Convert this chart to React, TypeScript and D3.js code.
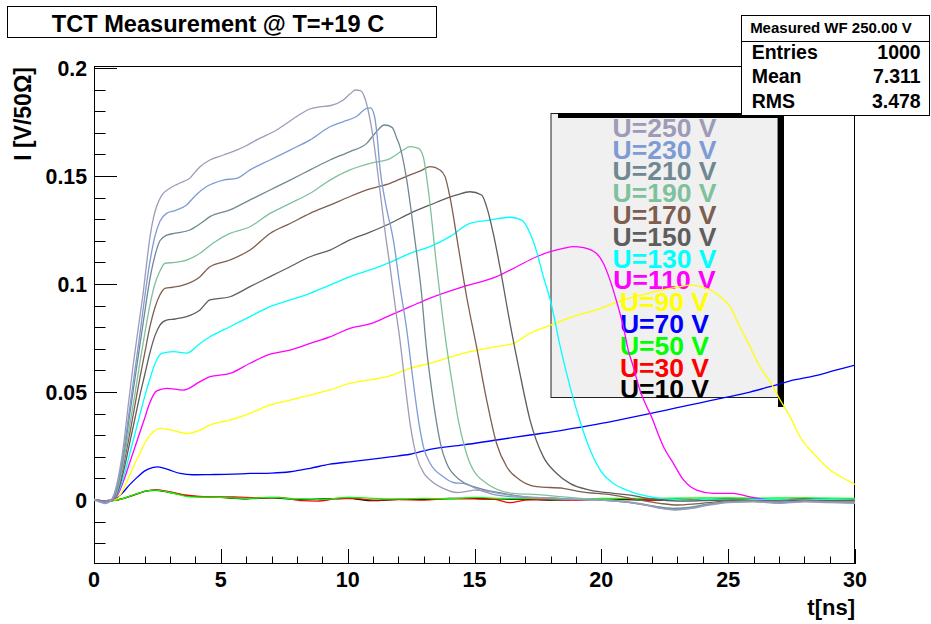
import React from "react";
import * as d3 from "d3";

type Pt = [number, number];

// Induced current I [V/50Ω] versus time t [ns], one waveform per bias voltage
const u250: Pt[] = [
  [0, 0.0003], [0.2, -0.0008], [0.42, -0.0016], [0.62, -0.0008], [0.8, 0.003], [1.0, 0.013],
  [1.16, 0.025], [1.35, 0.044], [1.55, 0.063], [1.75, 0.08], [1.94, 0.096], [2.1, 0.112],
  [2.21, 0.122], [2.35, 0.131], [2.47, 0.136], [2.67, 0.141], [2.99, 0.1443], [3.25, 0.146],
  [3.52, 0.1474], [3.78, 0.149], [4.0, 0.152], [4.18, 0.1543], [4.57, 0.1574], [5.1, 0.1597],
  [5.62, 0.162], [6.0, 0.164], [6.41, 0.1667], [7.2, 0.1713], [7.99, 0.1775], [8.5, 0.181],
  [8.9, 0.182], [9.3, 0.1825], [9.83, 0.1852], [10.1, 0.188], [10.3, 0.1898], [10.5, 0.1895],
  [10.68, 0.186], [10.85, 0.178], [11.0, 0.168], [11.27, 0.1435], [11.5, 0.122], [11.67, 0.108],
  [11.87, 0.09], [12.06, 0.0741], [12.25, 0.055], [12.46, 0.0355], [12.6, 0.026], [12.72, 0.0201],
  [13.0, 0.0125], [13.25, 0.0093], [13.77, 0.0054], [14.3, 0.0035], [14.7, 0.004], [15.0, 0.0046],
  [15.4, 0.0043], [16.0, 0.003], [17.0, 0.0015], [18.0, 0.001], [19.0, 0.0003], [20.0, 0.0],
  [21.0, -0.001], [21.8, -0.0025], [22.4, -0.004], [22.9, -0.0046], [23.5, -0.004], [24.2, -0.0025],
  [25.0, -0.0012], [26.0, -0.0008], [27.0, -0.0015], [28.0, -0.0008], [29.0, -0.0012], [30.0, -0.0015],
];

const u230: Pt[] = [
  [0, 0.0003], [0.2, -0.0006], [0.42, -0.0014], [0.62, -0.0007], [0.82, 0.003], [1.0, 0.011],
  [1.2, 0.025], [1.4, 0.042], [1.6, 0.059], [1.8, 0.076], [2.0, 0.094], [2.2, 0.11],
  [2.4, 0.122], [2.6, 0.129], [2.86, 0.1327], [3.2, 0.134], [3.65, 0.1366], [4.0, 0.141],
  [4.44, 0.1451], [5.1, 0.1481], [5.62, 0.1489], [6.15, 0.1528], [6.94, 0.1574], [7.73, 0.162],
  [8.52, 0.1667], [9.3, 0.1728], [9.83, 0.1752], [10.35, 0.1775], [10.75, 0.1813], [10.9, 0.1815],
  [11.05, 0.178], [11.15, 0.17], [11.27, 0.154], [11.5, 0.137], [11.8, 0.1204], [12.06, 0.099],
  [12.33, 0.0787], [12.55, 0.058], [12.79, 0.037], [13.0, 0.024], [13.25, 0.017], [13.77, 0.0108],
  [14.2, 0.008], [14.56, 0.0077], [15.2, 0.0046], [15.87, 0.0023], [17.0, 0.0012], [18.0, 0.0008],
  [19.0, 0.0003], [20.0, 0.0], [21.0, -0.001], [21.8, -0.0025], [22.4, -0.0038], [22.9, -0.0044],
  [23.5, -0.0038], [24.2, -0.0022], [25.0, -0.001], [26.0, -0.0006], [27.0, -0.0012], [28.0, -0.0006],
  [29.0, -0.001], [30.0, -0.0012],
];

const u210: Pt[] = [
  [0, 0.0003], [0.2, -0.0005], [0.42, -0.0012], [0.62, -0.0006], [0.82, 0.002], [1.0, 0.01],
  [1.2, 0.023], [1.4, 0.039], [1.6, 0.055], [1.8, 0.071], [2.0, 0.087], [2.2, 0.102],
  [2.4, 0.113], [2.6, 0.12], [2.85, 0.1225], [3.2, 0.1235], [3.78, 0.125], [4.2, 0.128],
  [4.57, 0.1312], [5.36, 0.1343], [6.15, 0.1389], [6.94, 0.1435], [7.73, 0.1481], [8.52, 0.1528],
  [9.3, 0.1574], [10.09, 0.1613], [10.75, 0.1651], [11.1, 0.17], [11.45, 0.1736], [11.75, 0.1725],
  [11.95, 0.167], [12.06, 0.1636], [12.33, 0.1481], [12.65, 0.1204], [12.9, 0.097], [13.1, 0.071],
  [13.3, 0.052], [13.51, 0.0355], [13.7, 0.024], [13.9, 0.017], [14.43, 0.0093], [15.2, 0.0054],
  [16.14, 0.0031], [17.0, 0.0015], [18.0, 0.001], [19.0, 0.0003], [20.0, 0.0], [21.0, -0.001],
  [21.8, -0.0023], [22.4, -0.0035], [22.9, -0.004], [23.5, -0.0035], [24.2, -0.002], [25.0, -0.0008],
  [26.0, -0.0006], [27.0, -0.0012], [28.0, -0.0005], [29.0, -0.001], [30.0, -0.001],
];

const u190: Pt[] = [
  [0, 0.0003], [0.2, -0.0004], [0.42, -0.001], [0.62, -0.0005], [0.85, 0.002], [1.0, 0.008],
  [1.2, 0.02], [1.4, 0.034], [1.6, 0.048], [1.8, 0.063], [2.0, 0.077], [2.2, 0.09],
  [2.4, 0.1], [2.6, 0.106], [2.8, 0.1096], [3.2, 0.11], [3.65, 0.1111], [4.18, 0.1142],
  [4.7, 0.119], [5.36, 0.1234], [6.15, 0.1265], [6.94, 0.1327], [7.73, 0.1373], [8.52, 0.142],
  [9.3, 0.1481], [10.09, 0.1528], [10.88, 0.1558], [11.67, 0.158], [12.19, 0.162], [12.46, 0.1636],
  [12.79, 0.1628], [12.98, 0.1589], [13.18, 0.1435], [13.51, 0.108], [13.9, 0.071], [14.15, 0.052],
  [14.36, 0.037], [14.6, 0.025], [14.82, 0.017], [15.48, 0.0077], [16.53, 0.0031], [17.5, 0.0025],
  [18.5, 0.0015], [19.5, 0.0005], [20.5, 0.0], [21.5, -0.0015], [22.2, -0.003], [22.9, -0.0038],
  [23.5, -0.0033], [24.2, -0.0018], [25.0, -0.0008], [26.0, -0.0005], [27.0, -0.001], [28.0, -0.0005],
  [29.0, -0.0008], [30.0, -0.0008],
];

const u170: Pt[] = [
  [0, 0.0003], [0.2, -0.0003], [0.42, -0.0009], [0.62, -0.0004], [0.85, 0.002], [1.0, 0.007],
  [1.2, 0.018], [1.4, 0.03], [1.6, 0.043], [1.8, 0.056], [2.0, 0.068], [2.2, 0.08],
  [2.4, 0.089], [2.6, 0.095], [2.8, 0.098], [3.1, 0.0985], [3.52, 0.0995], [4.18, 0.1034],
  [4.57, 0.108], [5.36, 0.1111], [6.15, 0.1157], [6.94, 0.1234], [7.73, 0.128], [8.52, 0.1327],
  [9.3, 0.1365], [10.09, 0.1405], [10.88, 0.144], [11.67, 0.1466], [12.46, 0.1505], [12.9, 0.1525],
  [13.25, 0.1543], [13.64, 0.1528], [13.84, 0.1497], [14.03, 0.1404], [14.36, 0.1173], [14.69, 0.0941],
  [15.08, 0.071], [15.48, 0.0463], [15.87, 0.0262], [16.27, 0.0154], [16.79, 0.0093], [17.45, 0.0062],
  [18.5, 0.0054], [19.16, 0.0039], [20.47, 0.0023], [21.5, 0.0], [22.3, -0.0015], [23.0, -0.0023],
  [23.7, -0.0018], [24.5, -0.0008], [25.5, -0.0003], [26.5, -0.0005], [27.5, -0.0008], [28.5, -0.0003],
  [30.0, -0.0005],
];

const u150: Pt[] = [
  [0, 0.0003], [0.2, -0.0003], [0.42, -0.0008], [0.62, -0.0003], [0.85, 0.0015], [1.0, 0.006],
  [1.2, 0.015], [1.4, 0.026], [1.6, 0.037], [1.8, 0.048], [2.0, 0.058], [2.2, 0.068],
  [2.4, 0.076], [2.6, 0.081], [2.86, 0.0833], [3.2, 0.0838], [3.65, 0.0849], [4.18, 0.088],
  [4.57, 0.0926], [5.36, 0.0941], [6.15, 0.0988], [6.94, 0.1034], [7.73, 0.108], [8.52, 0.1126],
  [9.3, 0.1157], [10.09, 0.1204], [10.88, 0.124], [11.67, 0.128], [12.46, 0.1327], [13.25, 0.1366],
  [14.3, 0.1412], [14.82, 0.1427], [15.28, 0.1412], [15.48, 0.1357], [15.74, 0.1234], [16.0, 0.108],
  [16.4, 0.0818], [16.79, 0.0586], [17.19, 0.037], [17.71, 0.0201], [18.24, 0.0123], [18.76, 0.0077],
  [19.55, 0.0046], [20.47, 0.0031], [21.13, 0.0023], [22.0, 0.0005], [23.0, -0.0005], [24.0, -0.0003],
  [25.0, 0.0], [26.0, -0.0003], [27.0, -0.0005], [28.0, 0.0], [29.0, -0.0005], [30.0, -0.0003],
];

const u130: Pt[] = [
  [0, 0.0002], [0.2, -0.0003], [0.42, -0.0006], [0.62, -0.0002], [0.85, 0.0015], [1.0, 0.005],
  [1.2, 0.012], [1.4, 0.021], [1.6, 0.03], [1.8, 0.039], [2.0, 0.048], [2.2, 0.056],
  [2.4, 0.063], [2.67, 0.0679], [3.13, 0.0687], [3.65, 0.068], [4.18, 0.0725], [4.57, 0.0756],
  [5.36, 0.0802], [6.15, 0.0849], [6.94, 0.0895], [7.73, 0.0926], [8.52, 0.0957], [9.3, 0.0995],
  [10.09, 0.1034], [10.88, 0.1065], [11.67, 0.11], [12.46, 0.1142], [13.25, 0.1173], [14.03, 0.1219],
  [14.82, 0.1281], [15.61, 0.1296], [16.4, 0.1309], [16.86, 0.1296], [17.19, 0.1235], [17.45, 0.115],
  [17.7, 0.104], [18.0, 0.092], [18.4, 0.07], [18.8, 0.051], [19.2, 0.035], [19.6, 0.022],
  [19.95, 0.014], [20.5, 0.0075], [21.13, 0.004], [21.8, 0.0018], [22.5, 0.0005], [23.5, 0.0],
  [24.5, 0.0003], [25.5, 0.0], [26.5, 0.0003], [27.5, 0.0], [28.5, 0.0003], [30.0, 0.0],
];

const u110: Pt[] = [
  [0, 0.0002], [0.3, -0.0003], [0.6, -0.0002], [0.85, 0.001], [1.0, 0.004], [1.2, 0.01],
  [1.4, 0.017], [1.6, 0.024], [1.8, 0.031], [2.0, 0.038], [2.2, 0.045], [2.47, 0.0505],
  [2.86, 0.0517], [3.52, 0.0509], [4.18, 0.0548], [4.57, 0.0571], [5.36, 0.0586], [6.15, 0.0633],
  [6.94, 0.0675], [7.73, 0.0694], [8.52, 0.0725], [9.3, 0.0755], [10.09, 0.0795], [10.88, 0.0815],
  [11.67, 0.0855], [12.46, 0.0895], [13.25, 0.0935], [14.56, 0.0988], [15.87, 0.1034], [16.66, 0.108],
  [17.45, 0.1126], [17.98, 0.115], [18.5, 0.1165], [18.9, 0.1173], [19.3, 0.1168], [19.8, 0.1142],
  [20.08, 0.1096], [20.34, 0.1019], [20.6, 0.092], [20.87, 0.0802], [21.06, 0.0694], [21.26, 0.0617],
  [21.52, 0.0509], [21.79, 0.0432], [22.0, 0.038], [22.18, 0.0324], [22.45, 0.0247], [22.84, 0.017],
  [23.24, 0.0093], [23.76, 0.0046], [24.42, 0.0031], [25.2, 0.0031], [25.73, 0.0018], [26.5, 0.0003],
  [27.5, 0.0], [28.5, 0.0003], [30.0, 0.0],
];

const u90: Pt[] = [
  [0, 0.0], [0.5, -0.0003], [0.9, 0.0005], [1.16, 0.005], [1.35, 0.01], [1.55, 0.0154],
  [1.81, 0.0216], [2.07, 0.0278], [2.34, 0.0316], [2.6, 0.0332], [3.0, 0.0325], [3.65, 0.0308],
  [4.1, 0.032], [4.57, 0.0347], [5.36, 0.037], [6.15, 0.0401], [6.94, 0.044], [7.73, 0.0463],
  [8.52, 0.0486], [9.3, 0.051], [10.09, 0.054], [10.88, 0.0556], [11.67, 0.0575], [12.46, 0.061],
  [13.25, 0.0633], [14.56, 0.0679], [15.87, 0.071], [16.53, 0.0725], [17.19, 0.0772], [17.8, 0.08],
  [18.5, 0.0833], [19.2, 0.086], [19.8, 0.088], [20.5, 0.091], [21.13, 0.0935], [21.8, 0.0955],
  [22.5, 0.0975], [23.0, 0.0985], [23.5, 0.0995], [24.0, 0.0985], [24.4, 0.0965], [24.68, 0.0941],
  [25.07, 0.0895], [25.46, 0.0802], [25.86, 0.071], [26.25, 0.0617], [26.65, 0.0548], [27.05, 0.0463],
  [27.44, 0.0386], [27.83, 0.0293], [28.36, 0.0216], [29.02, 0.0139], [29.67, 0.0093], [30.0, 0.0072],
];

const u70: Pt[] = [
  [0, 0.0], [0.5, -0.0003], [0.85, 0.0005], [1.1, 0.003], [1.4, 0.007], [1.7, 0.0105],
  [2.0, 0.0135], [2.3, 0.015], [2.5, 0.0154], [2.75, 0.0148], [3.0, 0.0138], [3.4, 0.0123],
  [3.9, 0.0117], [4.57, 0.0118], [5.5, 0.012], [6.15, 0.0123], [7.0, 0.0125], [7.73, 0.0131],
  [8.52, 0.0147], [9.3, 0.0166], [10.09, 0.0177], [10.9, 0.0188], [11.67, 0.02], [12.46, 0.0212],
  [13.25, 0.0235], [14.56, 0.0255], [15.87, 0.0278], [17.19, 0.0301], [18.5, 0.0324], [19.8, 0.035],
  [21.0, 0.0378], [21.9, 0.04], [22.9, 0.0425], [23.9, 0.045], [24.9, 0.0475], [25.86, 0.05],
  [26.8, 0.053], [27.6, 0.0556], [28.4, 0.0575], [29.2, 0.06], [30.0, 0.0625],
];

const u50: Pt[] = [
  [0, 0.0], [0.5, -0.0003], [0.9, 0.0], [1.5, 0.0022], [2.0, 0.004], [2.4, 0.0046],
  [3.0, 0.0035], [3.8, 0.0015], [5.0, 0.0012], [6.0, 0.0008], [7.0, 0.0012], [8.0, 0.0005],
  [9.0, 0.0003], [10.0, 0.0012], [11.0, 0.0008], [12.0, 0.0005], [13.0, 0.0008], [14.0, 0.0006],
  [15.0, 0.0012], [16.0, 0.0008], [17.0, 0.0008], [18.0, 0.0006], [19.0, 0.0003], [20.0, 0.0008],
  [22.0, 0.0008], [24.0, 0.001], [26.0, 0.0009], [28.0, 0.001], [30.0, 0.0008],
];

const u30: Pt[] = [
  [0, 0.0], [0.5, -0.0005], [0.9, 0.0], [1.5, 0.002], [2.0, 0.004], [2.4, 0.0048],
  [2.9, 0.004], [3.5, 0.0025], [4.5, 0.0015], [5.5, 0.0015], [6.5, 0.001], [7.3, 0.0012],
  [8.2, -0.0003], [8.8, -0.0005], [9.5, 0.0005], [10.2, 0.0008], [11.0, 0.0], [12.0, 0.0002],
  [13.0, 0.0], [14.0, 0.0006], [15.0, 0.0005], [15.8, 0.0003], [16.4, -0.0012], [17.0, 0.0],
  [18.0, 0.0003], [19.0, 0.0], [20.0, 0.0005], [21.0, 0.0005], [22.0, 0.0], [23.0, 0.0005],
  [24.0, 0.0], [25.0, 0.0008], [26.0, 0.0005], [27.0, 0.0], [28.0, 0.0008], [29.0, 0.0003],
  [30.0, 0.0],
];

const u10: Pt[] = [
  [0, 0.0], [0.5, -0.0003], [0.9, 0.0], [1.5, 0.002], [2.0, 0.004], [2.4, 0.0045],
  [3.0, 0.0035], [3.8, 0.0018], [5.0, 0.0012], [6.0, 0.0006], [7.0, 0.001], [8.0, 0.0003],
  [9.0, 0.0005], [10.0, 0.0008], [11.0, -0.0003], [12.0, 0.0003], [13.0, 0.0003], [14.0, 0.0008],
  [15.0, 0.0008], [16.0, 0.0005], [17.0, 0.0004], [18.0, 0.0], [20.0, 0.0003], [22.0, 0.0],
  [24.0, 0.0003], [26.0, 0.0], [28.0, 0.0003], [29.0, -0.0003], [30.0, 0.0],
];

// Legend order (top to bottom); drawing goes in reverse so the 250 V trace ends up on top
const voltageLabels = [
  "U=250 V", "U=230 V", "U=210 V", "U=190 V", "U=170 V", "U=150 V", "U=130 V",
  "U=110 V", "U=90 V", "U=70 V", "U=50 V", "U=30 V", "U=10 V",
];
const voltageColors = [
  "#9d9bb7", "#7d9bd4", "#6f8892", "#7fc19c", "#7e5e4f", "#5e5e5e", "#00ffff",
  "#ff00ff", "#ffff00", "#0000ff", "#00ff00", "#ff0000", "#000000",
];
const waveforms = [u250, u230, u210, u190, u170, u150, u130, u110, u90, u70, u50, u30, u10];

const xTickValues = [0, 5, 10, 15, 20, 25, 30];
const xTickLabels = ["0", "5", "10", "15", "20", "25", "30"];
const yTickValues = [0, 0.05, 0.1, 0.15, 0.2];
const yTickLabels = ["0", "0.05", "0.1", "0.15", "0.2"];

const plotTitle = "TCT Measurement @ T=+19 C";
const xTitle = "t[ns]";
const yTitle = "I [V/50\u03A9]";
const statsHeader = "Measured WF 250.00 V";
const statNames = ["Entries", "Mean", "RMS"];
const statValues = ["1000", "7.311", "3.478"];

const W = 931;
const H = 624;
const FONT = "'Liberation Sans', Arial, Helvetica, sans-serif";

export default function App() {
  const left = 94;
  const right = 855;
  const top = 66;
  const bottom = 564;

  const x = d3.scaleLinear().domain([0, 30]).range([left, right]);
  const y = d3.scaleLinear().domain([-0.0296, 0.2009]).range([bottom, top]);

  const line = d3
    .line<Pt>()
    .x((d) => x(d[0]))
    .y((d) => y(d[1]))
    .curve(d3.curveMonotoneX);

  const xMinor = d3.range(0, 31, 1);
  const yMinor = d3.range(-0.02, 0.2001, 0.01);

  const legend = { x0: 551, y0: 113.5, x1: 778, y1: 397.5 };
  const legendCx = (legend.x0 + legend.x1) / 2;

  const stats = { x0: 741.5, y0: 15.5, x1: 929.5, y1: 115.5, sep: 41 };

  const order = d3.range(waveforms.length).reverse();

  return (
    <svg
      width={W}
      height={H}
      viewBox={`0 0 ${W} ${H}`}
      style={{ position: "absolute", left: 0, top: 0, display: "block", background: "#fff" }}
      fontFamily={FONT}
    >
      <defs>
        <clipPath id="plot-clip">
          <rect x={left} y={top} width={right - left} height={bottom - top} />
        </clipPath>
      </defs>
      <rect x={0} y={0} width={W} height={H} fill="#fff" />

      {/* title box */}
      <rect x={7.5} y={6.5} width={429} height={31} fill="#fff" stroke="#000" strokeWidth={1} />
      <text x={218} y={31.5} textAnchor="middle" fontSize={23.6} fontWeight="bold" fill="#000">
        {plotTitle}
      </text>

      {/* frame */}
      <rect
        x={left + 0.5}
        y={top + 0.5}
        width={right - left - 1}
        height={bottom - top - 1}
        fill="none"
        stroke="#000"
        strokeWidth={1}
      />

      {/* y axis ticks */}
      {yMinor.map((v, i) => (
        <line
          key={`ym${i}`}
          x1={left}
          x2={left + 11.5}
          y1={Math.round(y(v)) + 0.5}
          y2={Math.round(y(v)) + 0.5}
          stroke="#000"
          strokeWidth={1}
        />
      ))}
      {yTickValues.map((v, i) => (
        <g key={`yM${i}`}>
          <line
            x1={left}
            x2={left + 23}
            y1={Math.round(y(v)) + 0.5}
            y2={Math.round(y(v)) + 0.5}
            stroke="#000"
            strokeWidth={1}
          />
          <text
            x={87}
            y={y(v) + 7.6}
            textAnchor="end"
            fontSize={21.3}
            fontWeight="bold"
            fill="#000"
          >
            {yTickLabels[i]}
          </text>
        </g>
      ))}

      {/* x axis ticks */}
      {xMinor.map((t, i) => (
        <line
          key={`xm${i}`}
          x1={Math.round(x(t)) + 0.5}
          x2={Math.round(x(t)) + 0.5}
          y1={bottom}
          y2={bottom - 7.5}
          stroke="#000"
          strokeWidth={1}
        />
      ))}
      {xTickValues.map((t, i) => (
        <g key={`xM${i}`}>
          <line
            x1={Math.round(x(t)) + 0.5}
            x2={Math.round(x(t)) + 0.5}
            y1={bottom}
            y2={bottom - 15}
            stroke="#000"
            strokeWidth={1}
          />
          <text x={x(t)} y={587} textAnchor="middle" fontSize={21.5} fontWeight="bold" fill="#000">
            {xTickLabels[i]}
          </text>
        </g>
      ))}

      {/* axis titles */}
      <text x={right} y={615} textAnchor="end" fontSize={22} fontWeight="bold" fill="#000">
        {xTitle}
      </text>
      <text
        transform={`translate(31, ${top + 1}) rotate(-90)`}
        textAnchor="end"
        fontSize={23}
        fontWeight="bold"
        fill="#000"
      >
        {yTitle}
      </text>

      {/* legend box with its shadow bars */}
      <rect
        x={legend.x0}
        y={legend.y0}
        width={legend.x1 - legend.x0}
        height={legend.y1 - legend.y0}
        fill="#f0f0f0"
        stroke="#222"
        strokeWidth={1}
      />
      <rect x={558} y={113} width={226} height={5} fill="#000" />
      <rect x={778} y={113} width={6} height={294} fill="#000" />
      {voltageLabels.map((lab, i) => (
        <text
          key={lab}
          x={legendCx}
          y={136.7 + i * 21.8}
          textAnchor="middle"
          fontSize={26.5}
          fontWeight="bold"
          fill={voltageColors[i]}
        >
          {lab}
        </text>
      ))}

      {/* waveforms */}
      <g clipPath="url(#plot-clip)">
        {order.map((i) => (
          <path
            key={voltageLabels[i]}
            d={line(waveforms[i]) ?? ""}
            fill="none"
            stroke={voltageColors[i]}
            strokeWidth={1.3}
          />
        ))}
      </g>

      {/* statistics box */}
      <rect
        x={stats.x0}
        y={stats.y0}
        width={stats.x1 - stats.x0}
        height={stats.y1 - stats.y0}
        fill="#fff"
        stroke="#000"
        strokeWidth={1}
      />
      <line x1={stats.x0} x2={stats.x1} y1={stats.sep + 0.5} y2={stats.sep + 0.5} stroke="#000" strokeWidth={1} />
      <text x={831} y={33.3} textAnchor="middle" fontSize={15} fontWeight="bold" fill="#000">
        {statsHeader}
      </text>
      {statNames.map((n, i) => (
        <g key={n}>
          <text x={751.7} y={58.5 + i * 24.8} fontSize={19.5} fontWeight="bold" fill="#000">
            {n}
          </text>
          <text x={920.7} y={58.5 + i * 24.8} textAnchor="end" fontSize={19.5} fontWeight="bold" fill="#000">
            {statValues[i]}
          </text>
        </g>
      ))}
    </svg>
  );
}
